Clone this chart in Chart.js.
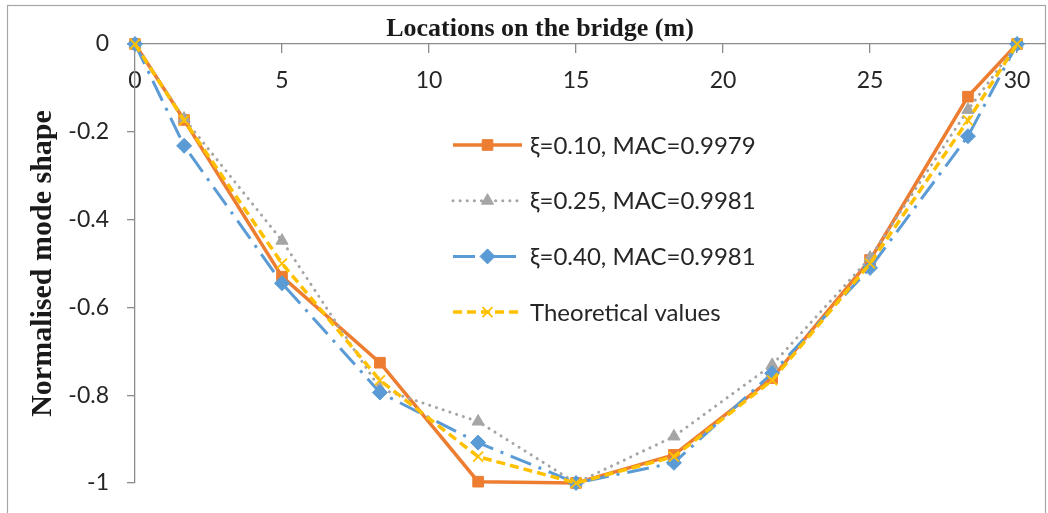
<!DOCTYPE html>
<html>
<head>
<meta charset="utf-8">
<script src="https://cdn.jsdelivr.net/npm/chart.js@4.4.1/dist/chart.umd.min.js"></script>
<style>
  html, body { margin: 0; padding: 0; background: #ffffff; }
  #wrap { width: 1048px; height: 513px; position: relative; }
</style>
</head>
<body>
<div id="wrap"><canvas id="modeChart" width="1048" height="513"></canvas></div>
<script>
// Locations along the bridge deck (m)
const locations = [0, 1.67, 5, 8.33, 11.67, 15, 18.33, 21.67, 25, 28.33, 30];

// Identified mode shapes for three damping ratios, plus the theoretical shape
const xi010 = [0, -0.173, -0.530, -0.726, -0.997, -1.000, -0.936, -0.761, -0.492, -0.120, 0];
const xi025 = [0, -0.170, -0.448, -0.785, -0.860, -1.000, -0.894, -0.731, -0.487, -0.150, 0];
const xi040 = [0, -0.232, -0.545, -0.794, -0.908, -1.000, -0.954, -0.750, -0.510, -0.210, 0];
const theoretical = [0, -0.174, -0.500, -0.766, -0.940, -1.000, -0.940, -0.766, -0.500, -0.174, 0];

const seriesLabels = ['ξ=0.10, MAC=0.9979', 'ξ=0.25, MAC=0.9981', 'ξ=0.40, MAC=0.9981', 'Theoretical values'];

const xTickValues = [0, 5, 10, 15, 20, 25, 30];
const yTickValues = [0, -0.2, -0.4, -0.6, -0.8, -1];

const xTitle = 'Locations on the bridge (m)';
const yTitle = 'Normalised mode shape';

const tickFont = { family: 'Lato, "Open Sans", sans-serif', size: 23 };
const yTitleFont = { family: '"Liberation Serif", "DejaVu Serif", serif', size: 30, weight: 'bold' };
const axisGrey = '#8c8c8c';

function toPoints(values) {
  return locations.map((x, i) => ({ x: x, y: values[i] }));
}

// White background and the thin frame around the whole figure
const framePlugin = {
  id: 'frame',
  beforeDraw(chart) {
    const ctx = chart.ctx;
    ctx.save();
    ctx.fillStyle = '#ffffff';
    ctx.fillRect(0, 0, chart.width, chart.height);
    ctx.strokeStyle = '#a6a6a6';
    ctx.lineWidth = 1.2;
    ctx.strokeRect(7.5, 5.5, chart.width - 10, chart.height + 20);
    ctx.restore();
  }
};

// Horizontal axis title, set above the axis line
const xTitlePlugin = {
  id: 'xTitle',
  afterDraw(chart) {
    const ctx = chart.ctx;
    ctx.save();
    ctx.font = 'bold 26px "Liberation Serif", "DejaVu Serif", serif';
    ctx.fillStyle = '#1a1a1a';
    ctx.textAlign = 'center';
    ctx.textBaseline = 'alphabetic';
    ctx.fillText(xTitle, 540, 36);
    ctx.restore();
  }
};

// Legend drawn inside the plot: a line sample with its marker, then the label
const insideLegend = {
  id: 'insideLegend',
  afterDatasetsDraw(chart) {
    const ctx = chart.ctx;
    const x0 = 453, x1 = 522, textX = 530, firstY = 145, rowGap = 55.7;
    chart.data.datasets.forEach((ds, i) => {
      const y = firstY + i * rowGap;
      ctx.save();
      ctx.strokeStyle = ds.borderColor;
      ctx.lineWidth = ds.borderWidth;
      ctx.lineCap = ds.borderCapStyle || 'butt';
      ctx.setLineDash(ds.borderDash || []);
      ctx.beginPath();
      ctx.moveTo(x0, y);
      ctx.lineTo(x1, y);
      ctx.stroke();
      ctx.setLineDash([]);
      ctx.lineCap = 'butt';
      ctx.fillStyle = ds.pointBackgroundColor;
      ctx.strokeStyle = ds.pointBorderColor;
      ctx.lineWidth = ds.pointBorderWidth;
      Chart.helpers.drawPoint(ctx, {
        pointStyle: ds.pointStyle,
        radius: ds.pointRadius,
        borderWidth: ds.pointBorderWidth,
        rotation: 0
      }, (x0 + x1) / 2, y);
      ctx.font = '24px Lato, "Open Sans", sans-serif';
      ctx.fillStyle = '#262626';
      ctx.textAlign = 'left';
      ctx.textBaseline = 'middle';
      ctx.fillText(ds.label, textX, y + 1);
      ctx.restore();
    });
  }
};

new Chart(document.getElementById('modeChart'), {
  type: 'line',
  data: {
    datasets: [
      {
        label: seriesLabels[0],
        data: toPoints(xi010),
        borderColor: '#ED7D31',
        borderWidth: 3.5,
        pointStyle: 'rect',
        pointRadius: 7.5,
        pointBackgroundColor: '#ED7D31',
        pointBorderColor: '#ED7D31',
        pointBorderWidth: 1,
        order: 4
      },
      {
        label: seriesLabels[1],
        data: toPoints(xi025),
        borderColor: '#A5A5A5',
        borderWidth: 3,
        borderDash: [0.1, 7],
        borderCapStyle: 'round',
        pointStyle: 'triangle',
        pointRadius: 7,
        pointBackgroundColor: '#A5A5A5',
        pointBorderColor: '#A5A5A5',
        pointBorderWidth: 1,
        order: 3
      },
      {
        label: seriesLabels[2],
        data: toPoints(xi040),
        borderColor: '#5B9BD5',
        borderWidth: 3,
        borderDash: [22, 8, 3, 8],
        pointStyle: 'rectRot',
        pointRadius: 7.5,
        pointBackgroundColor: '#5B9BD5',
        pointBorderColor: '#5B9BD5',
        pointBorderWidth: 1,
        order: 2
      },
      {
        label: seriesLabels[3],
        data: toPoints(theoretical),
        borderColor: '#FFC000',
        borderWidth: 3.5,
        borderDash: [9, 5],
        pointStyle: 'crossRot',
        pointRadius: 7,
        pointBackgroundColor: '#FFC000',
        pointBorderColor: '#FFC000',
        pointBorderWidth: 1.8,
        order: 1
      }
    ]
  },
  options: {
    responsive: false,
    animation: false,
    devicePixelRatio: 1,
    layout: { autoPadding: false, padding: { top: 0, left: 0, right: 3, bottom: 30 } },
    elements: { line: { tension: 0, fill: false } },
    datasets: { line: { clip: false } },
    plugins: {
      legend: { display: false },
      tooltip: { enabled: false },
      title: { display: false }
    },
    scales: {
      x: {
        type: 'linear',
        position: 'top',
        min: 0,
        max: 30.95,
        afterBuildTicks(scale) {
          scale.ticks = xTickValues.map(v => ({ value: v }));
        },
        afterFit(scale) {
          scale.height = 44;
          scale.paddingLeft = 0;
          scale.paddingRight = 0;
        },
        ticks: {
          mirror: true,
          padding: 23,
          font: tickFont,
          color: '#262626',
          maxRotation: 0,
          autoSkip: false
        },
        grid: {
          display: true,
          drawOnChartArea: false,
          drawTicks: true,
          tickLength: -9,
          color: axisGrey,
          lineWidth: 1.3
        },
        border: { display: true, color: axisGrey, width: 1.3 },
        title: { display: false }
      },
      y: {
        type: 'linear',
        position: 'left',
        min: -1,
        max: 0,
        afterBuildTicks(scale) {
          scale.ticks = yTickValues.map(v => ({ value: v }));
        },
        afterFit(scale) {
          scale.width = 135;
          scale.paddingTop = 0;
          scale.paddingBottom = 0;
        },
        ticks: {
          padding: 18,
          font: tickFont,
          color: '#262626',
          callback: (v) => String(Math.round(v * 10) / 10)
        },
        grid: {
          display: true,
          drawOnChartArea: false,
          drawTicks: true,
          tickLength: 8,
          color: axisGrey,
          lineWidth: 1.3
        },
        border: { display: true, color: axisGrey, width: 1.3 },
        title: {
          display: true,
          text: yTitle,
          font: yTitleFont,
          color: '#1a1a1a',
          padding: { top: 25, bottom: 0 }
        }
      }
    }
  },
  plugins: [framePlugin, xTitlePlugin, insideLegend]
});
</script>
</body>
</html>
